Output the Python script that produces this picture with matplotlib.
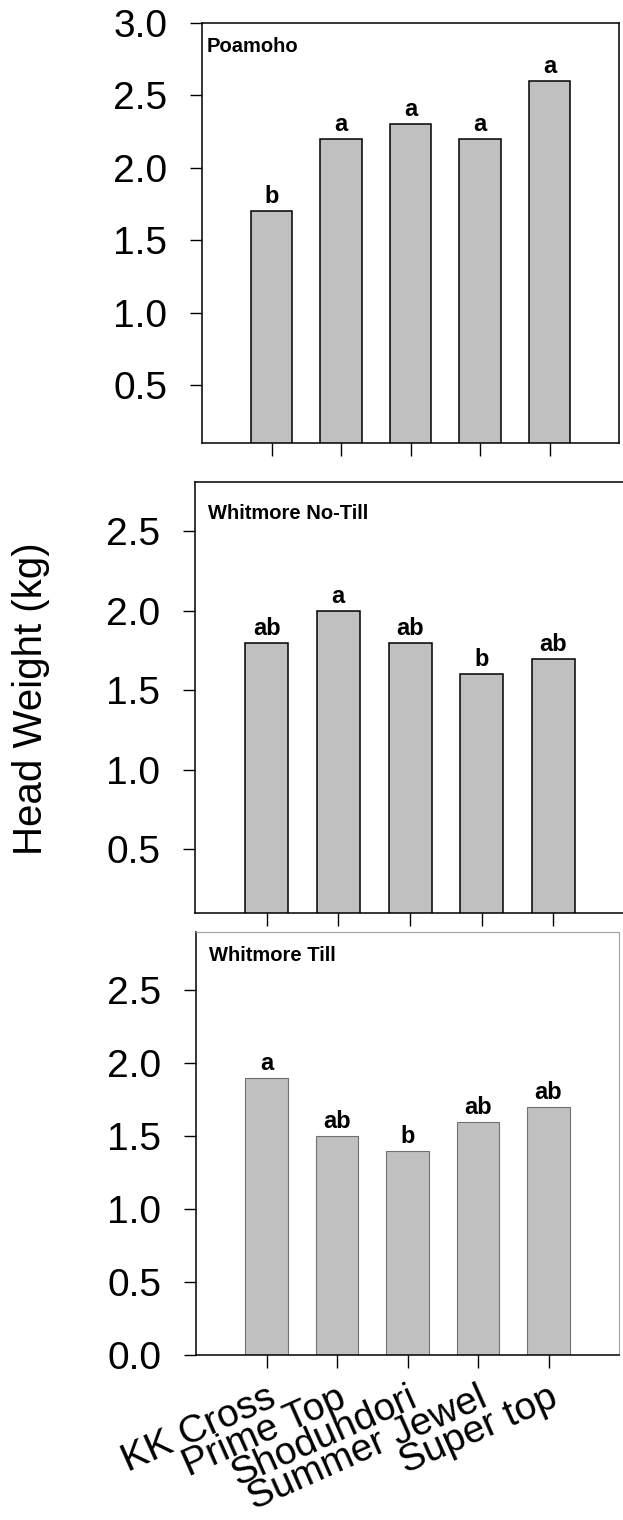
import matplotlib
matplotlib.use("Agg")
import matplotlib.pyplot as plt
import numpy as np

plt.rcParams['font.family'] = ['Liberation Sans', 'DejaVu Sans']

cultivars = ["KK Cross", "Prime Top", "Shodundori", "Summer Jewel", "Super top"]

sites = ["Poamoho", "Whitmore No-Till", "Whitmore Till"]

poamohoWeight = [1.7, 2.2, 2.3, 2.2, 2.6]
poamohoLetters = ["b", "a", "a", "a", "a"]

noTillWeight = [1.8, 2.0, 1.8, 1.6, 1.7]
noTillLetters = ["ab", "a", "ab", "b", "ab"]

tillWeight = [1.9, 1.5, 1.4, 1.6, 1.7]
tillLetters = ["a", "ab", "b", "ab", "ab"]

BAR_COLOR = "#c0c0c0"
W, H = 623, 1520


def figRect(left, top, right, bottom):
    # pixel box -> figure fraction rect
    return [left / W, 1 - bottom / H, (right - left) / W, (bottom - top) / H]


def drawPanel(ax, weights, letters, title, ylim, yticks, titleOffset,
              edgeColor="black", frameColor="black", frameWidth=1.1):
    x = np.arange(1, len(weights) + 1)
    ax.bar(x, weights, width=0.6, color=BAR_COLOR, edgecolor=edgeColor,
           linewidth=1.1 if edgeColor == "black" else 0.8, zorder=2)
    for xi, w, lab in zip(x, weights, letters):
        ax.annotate(lab, (xi, w), xytext=(0, 3), textcoords="offset pixels",
                    ha="center", va="bottom", fontsize=17, fontweight="bold")
    ax.annotate(title, (0, 1), xycoords="axes fraction", xytext=titleOffset,
                textcoords="offset pixels", ha="left", va="baseline",
                fontsize=14.5, fontweight="bold")
    ax.set_xlim(0, 6)
    ax.set_ylim(*ylim)
    ax.set_yticks(yticks)
    ax.set_yticklabels([f"{t:.1f}" for t in yticks])
    ax.set_xticks(x)
    ax.tick_params(axis="both", direction="out", length=9, width=1.0,
                   labelsize=28, pad=16)
    for side in ["left", "bottom"]:
        ax.spines[side].set_linewidth(1.1)
    for side in ["top", "right"]:
        ax.spines[side].set_color(frameColor)
        ax.spines[side].set_linewidth(frameWidth)


fig = plt.figure(figsize=(W / 100, H / 100), dpi=100)

ax1 = fig.add_axes(figRect(202, 23, 619, 443))
drawPanel(ax1, poamohoWeight, poamohoLetters, sites[0], (0.1, 3.0),
          [0.5, 1.0, 1.5, 2.0, 2.5, 3.0], (5, -29))
ax1.set_xticklabels([])

ax2 = fig.add_axes(figRect(195, 482, 625, 913))
drawPanel(ax2, noTillWeight, noTillLetters, sites[1], (0.1, 2.81),
          [0.5, 1.0, 1.5, 2.0, 2.5], (13, -37))
ax2.set_xticklabels([])

ax3 = fig.add_axes(figRect(196, 932, 619, 1355))
drawPanel(ax3, tillWeight, tillLetters, sites[2], (0.0, 2.9),
          [0.0, 0.5, 1.0, 1.5, 2.0, 2.5], (13, -29),
          edgeColor="#707070", frameColor="#a0a0a0", frameWidth=0.8)
ax3.set_xticklabels(cultivars, rotation=24, ha="right", va="top",
                    rotation_mode="anchor", fontsize=28)
ax3.tick_params(axis="x", pad=9)

fig.text(31 / W, 1 - 699 / H, "Head Weight (kg)", rotation=90,
         ha="center", va="center", fontsize=29)

fig.savefig("out.png", dpi=100)
